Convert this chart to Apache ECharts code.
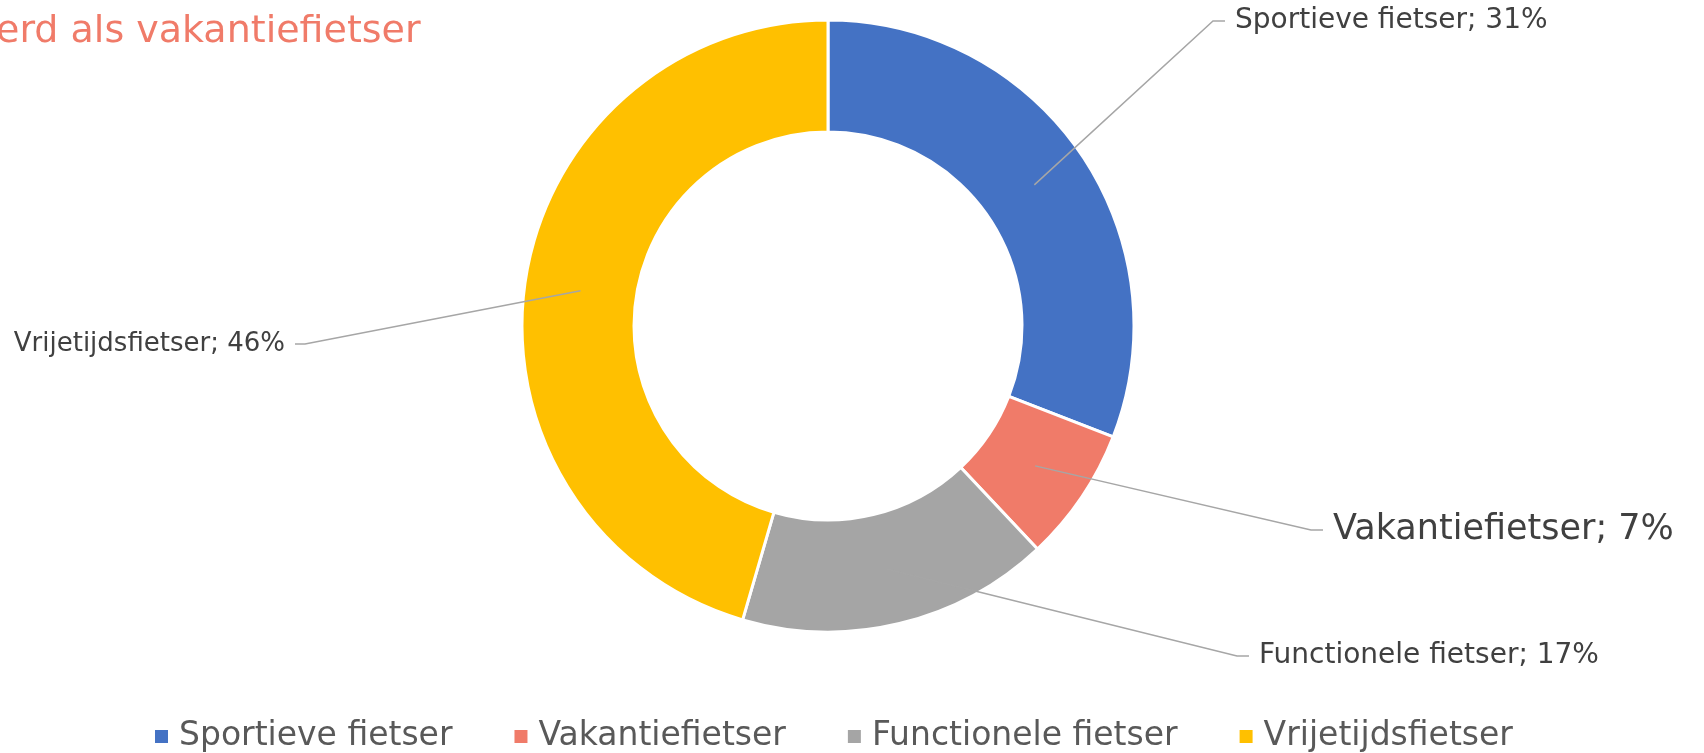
<!DOCTYPE html>
<html>
<head>
<meta charset="utf-8">
<script src="https://cdn.jsdelivr.net/npm/echarts@6/dist/echarts.min.js"></script>
<style>
  html, body { margin: 0; padding: 0; background: #fff; }
  #donut { width: 1704px; height: 753px; }
</style>
</head>
<body>
<div id="donut"></div>
<script>
var myChart = echarts.init(document.getElementById('donut'))

// data
var categories = ['Sportieve fietser', 'Vakantiefietser', 'Functionele fietser', 'Vrijetijdsfietser']
var shares = [30.9, 7.1, 16.5, 45.5]
var colors = ['#4472C4', '#F07B69', '#A5A5A5', '#FFC000']

var cx = 828, cy = 326
var rIn = 194, rOut = 306

// label placement (text anchor x, middle y, side, size)
var labelSpots = [
  { x: 1235, y: 21, side: 'right', size: 28 },
  { x: 1333, y: 530, side: 'right', size: 35 },
  { x: 1259, y: 656, side: 'right', size: 28 },
  { x: 285, y: 344, side: 'left', size: 26 }
]

var total = shares.reduce(function(a, b) { return a + b }, 0)
function midAngle(i) {
  var before = 0
  for (var k = 0; k < i; k++) before += shares[k]
  // clockwise from 12 o'clock, in radians
  return (before + shares[i] / 2) / total * Math.PI * 2
}

var ringData = categories.map(function(name, i) {
  return { name: name, value: shares[i], itemStyle: { color: colors[i] } }
})
// same slices, invisible, only carrying the labels so the leader lines sit on top
var labelData = categories.map(function(name, i) {
  return { name: name, value: shares[i], label: { fontSize: labelSpots[i].size } }
})

option = {
  title: {
    text: 'erd als vakantiefietser',
    left: -9,
    top: 8,
    textStyle: {
      color: '#F07B69',
      fontSize: 38,
      fontWeight: 'normal',
      fontFamily: 'DejaVu Sans'
    }
  },
  legend: {
    data: categories,
    left: 155,
    top: 720,
    padding: 0,
    icon: 'rect',
    itemWidth: 13,
    itemHeight: 13,
    itemGap: 62,
    itemStyle: { borderWidth: 0 },
    textStyle: {
      color: '#595959',
      fontSize: 33,
      fontFamily: 'DejaVu Sans',
      padding: [0, 0, 0, 6]
    }
  },
  series: [
    {
      type: 'pie',
      center: [cx, cy],
      radius: [rIn, rOut],
      startAngle: 90,
      clockwise: true,
      itemStyle: {
        borderColor: '#fff',
        borderWidth: 3
      },
      label: { show: false },
      labelLine: { show: false },
      data: ringData
    },
    {
      type: 'pie',
      z: 5,
      silent: true,
      center: [cx, cy],
      radius: [rIn, rOut],
      startAngle: 90,
      clockwise: true,
      avoidLabelOverlap: false,
      itemStyle: { color: 'rgba(0,0,0,0)', borderWidth: 0 },
      label: {
        show: true,
        position: 'outside',
        color: '#404040',
        fontSize: 28,
        fontFamily: 'DejaVu Sans',
        formatter: function(p) {
          return p.name + '; ' + Math.round(p.value) + '%'
        }
      },
      labelLine: {
        show: true,
        lineStyle: { color: '#A6A6A6', width: 1.5 }
      },
      labelLayout: function(params) {
        var i = params.dataIndex
        var spot = labelSpots[i]
        var a = midAngle(i)
        var rm = (rIn + rOut) / 2
        var start = [cx + rm * Math.sin(a), cy - rm * Math.cos(a)]
        var pts
        if (spot.side === 'right') {
          pts = [start, [spot.x - 22, spot.y], [spot.x - 10, spot.y]]
        } else {
          pts = [start, [spot.x + 20, spot.y], [spot.x + 10, spot.y]]
        }
        return {
          x: spot.x,
          y: spot.y,
          align: spot.side === 'right' ? 'left' : 'right',
          verticalAlign: 'middle',
          labelLinePoints: pts
        }
      },
      data: labelData
    }
  ]
}
myChart.setOption(option)
window.onresize = function() {
  myChart.resize()
}
</script>
</body>
</html>
